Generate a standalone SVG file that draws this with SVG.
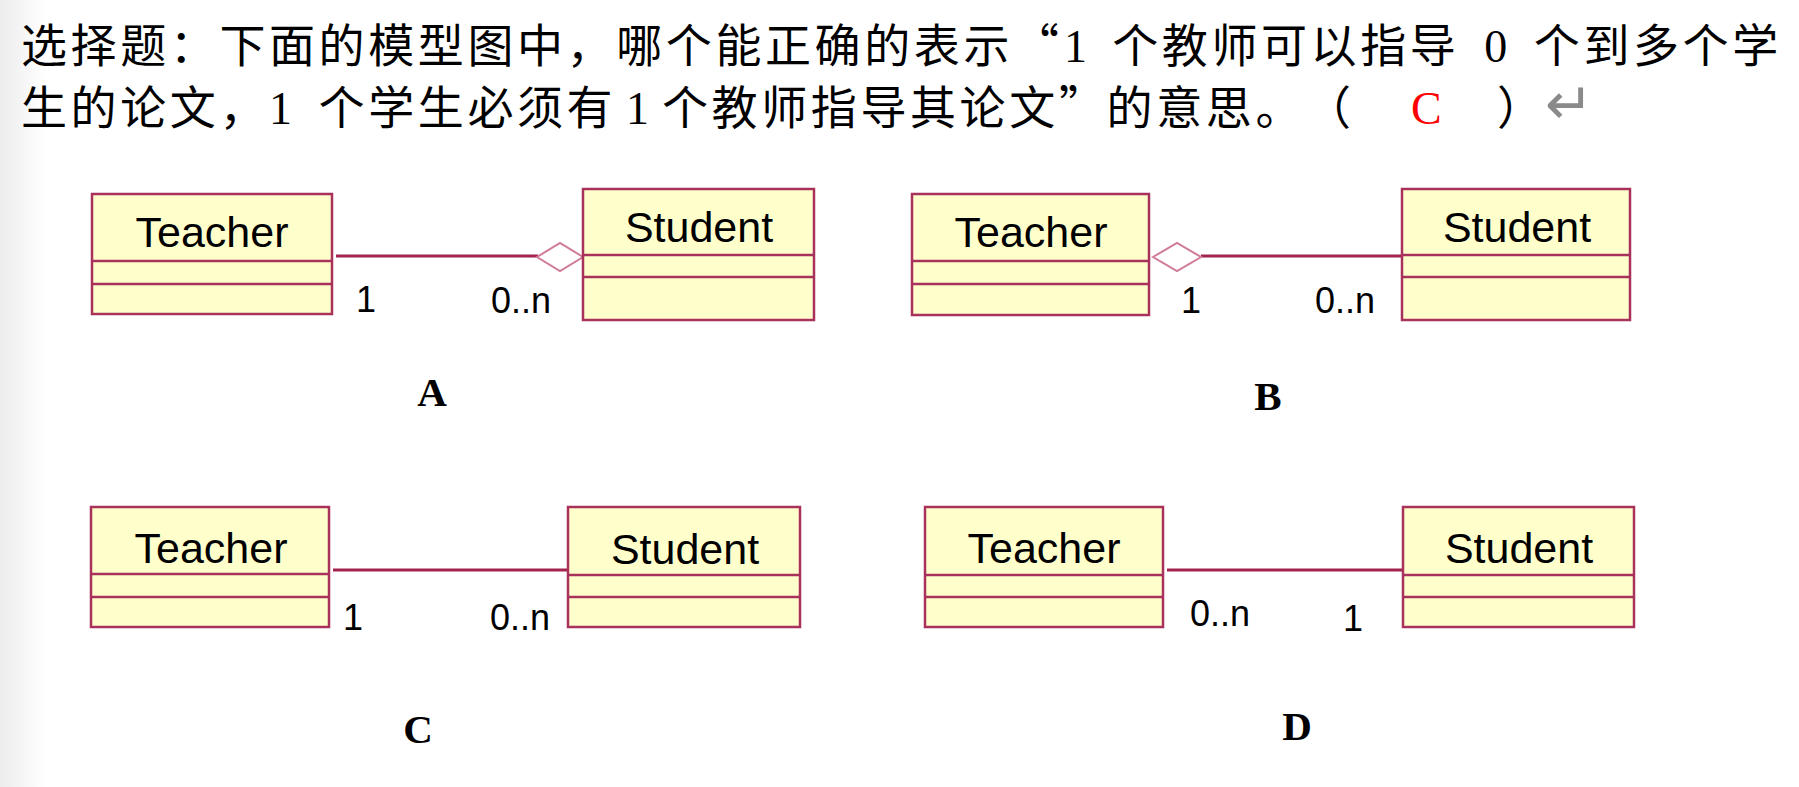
<svg xmlns="http://www.w3.org/2000/svg" width="1799" height="787" viewBox="0 0 1799 787">
<defs>
<linearGradient id="edge" x1="0" y1="0" x2="1" y2="0">
<stop offset="0" stop-color="#ececec"/>
<stop offset="1" stop-color="#ffffff"/>
</linearGradient>
<style>
.cjk{font-family:"Liberation Serif","Noto Sans CJK SC",serif;font-size:46px;fill:#000}
.cls{fill:#ffffcc;stroke:#a8325c;stroke-width:2.5}
.div{stroke:#a8325c;stroke-width:2.5}
.name{font-family:"Liberation Sans",Arial,sans-serif;font-size:43px;fill:#000;text-anchor:middle}
.mult{font-family:"Liberation Sans",Arial,sans-serif;font-size:36px;fill:#000}
.assoc{stroke:#a3234f;stroke-width:3;fill:none}
.agg{stroke:#d07c96;stroke-width:2;fill:#ffffff}
.opt{font-family:"Liberation Serif","Times New Roman",serif;font-weight:bold;font-size:41px;fill:#000;text-anchor:middle}
</style>
</defs>
<rect x="0" y="0" width="1799" height="787" fill="#ffffff"/>
<rect x="0" y="0" width="45" height="787" fill="url(#edge)"/>

<g id="question">
<text class="cjk" y="62"><tspan font-family="Noto Sans CJK SC" x="21 70.6 120.2 169.8 219.4 269 318.6 368.2 417.8 467.4 517 566.6 616.2 665.8 715.4 765 814.6 864.2 913.8 963.4">选择题：下面的模型图中，哪个能正确的表示</tspan><tspan font-family="Noto Sans CJK SC" x="1013">“</tspan><tspan x="1064">1</tspan><tspan font-family="Noto Sans CJK SC" x="1112.2 1161.8 1211.4 1261 1310.6 1360.2 1409.8">个教师可以指导</tspan><tspan x="1484.2">0</tspan><tspan font-family="Noto Sans CJK SC" x="1533.8 1583.4 1633 1682.6 1732.2">个到多个学</tspan></text>
<text class="cjk" y="124"><tspan font-family="Noto Sans CJK SC" x="21 70.6 120.2 169.8 219.4">生的论文，</tspan><tspan x="269">1</tspan><tspan font-family="Noto Sans CJK SC" x="318.6 368.2 417.8 467.4 517 566.6">个学生必须有</tspan><tspan x="626">1</tspan><tspan font-family="Noto Sans CJK SC" x="662 711.6 761.2 810.8 860.4 910 959.6 1009.2">个教师指导其论文</tspan><tspan font-family="Noto Sans CJK SC" x="1059">”</tspan><tspan font-family="Noto Sans CJK SC" x="1106.6 1156.2 1205.8 1255.4 1305">的意思。（</tspan><tspan x="1411" fill="#ff0000">C</tspan><tspan font-family="Noto Sans CJK SC" x="1497">）</tspan><tspan x="1545" y="124" font-family="DejaVu Sans" font-size="58" fill="#8a8a8a">↵</tspan></text>
</g>

<g id="connectors">
<line class="assoc" x1="336" y1="256" x2="538" y2="256"/>
<polygon class="agg" points="537,257 560,243 583,257 560,271"/>
<line class="assoc" x1="1201" y1="256" x2="1402" y2="256"/>
<polygon class="agg" points="1153,257 1177,243 1201,257 1177,271"/>
<line class="assoc" x1="333" y1="570" x2="568" y2="570"/>
<line class="assoc" x1="1167" y1="570" x2="1403" y2="570"/>
</g>

<g id="A-teacher">
<rect class="cls" x="92" y="194" width="240" height="120"/>
<line class="div" x1="92" y1="261" x2="332" y2="261"/>
<line class="div" x1="92" y1="284" x2="332" y2="284"/>
<text class="name" x="212" y="247">Teacher</text>
</g>
<g id="A-student">
<rect class="cls" x="583" y="189" width="231" height="131"/>
<line class="div" x1="583" y1="255" x2="814" y2="255"/>
<line class="div" x1="583" y1="277" x2="814" y2="277"/>
<text class="name" x="699" y="242">Student</text>
</g>
<g id="A-labels">
<text class="mult" x="356" y="312">1</text>
<text class="mult" x="491" y="313">0..n</text>
<text class="opt" x="432" y="406">A</text>
</g>

<g id="B-teacher">
<rect class="cls" x="912" y="194" width="237" height="121"/>
<line class="div" x1="912" y1="261" x2="1149" y2="261"/>
<line class="div" x1="912" y1="284" x2="1149" y2="284"/>
<text class="name" x="1031" y="247">Teacher</text>
</g>
<g id="B-student">
<rect class="cls" x="1402" y="189" width="228" height="131"/>
<line class="div" x1="1402" y1="255" x2="1630" y2="255"/>
<line class="div" x1="1402" y1="277" x2="1630" y2="277"/>
<text class="name" x="1517" y="242">Student</text>
</g>
<g id="B-labels">
<text class="mult" x="1181" y="313">1</text>
<text class="mult" x="1315" y="313">0..n</text>
<text class="opt" x="1268" y="410">B</text>
</g>

<g id="C-teacher">
<rect class="cls" x="91" y="507" width="238" height="120"/>
<line class="div" x1="91" y1="574" x2="329" y2="574"/>
<line class="div" x1="91" y1="597" x2="329" y2="597"/>
<text class="name" x="211" y="563">Teacher</text>
</g>
<g id="C-student">
<rect class="cls" x="568" y="507" width="232" height="120"/>
<line class="div" x1="568" y1="575" x2="800" y2="575"/>
<line class="div" x1="568" y1="597" x2="800" y2="597"/>
<text class="name" x="685" y="564">Student</text>
</g>
<g id="C-labels">
<text class="mult" x="343" y="630">1</text>
<text class="mult" x="490" y="630">0..n</text>
<text class="opt" x="418" y="743">C</text>
</g>

<g id="D-teacher">
<rect class="cls" x="925" y="507" width="238" height="120"/>
<line class="div" x1="925" y1="575" x2="1163" y2="575"/>
<line class="div" x1="925" y1="597" x2="1163" y2="597"/>
<text class="name" x="1044" y="563">Teacher</text>
</g>
<g id="D-student">
<rect class="cls" x="1403" y="507" width="231" height="120"/>
<line class="div" x1="1403" y1="575" x2="1634" y2="575"/>
<line class="div" x1="1403" y1="597" x2="1634" y2="597"/>
<text class="name" x="1519" y="563">Student</text>
</g>
<g id="D-labels">
<text class="mult" x="1190" y="626">0..n</text>
<text class="mult" x="1343" y="631">1</text>
<text class="opt" x="1297" y="740">D</text>
</g>
</svg>
